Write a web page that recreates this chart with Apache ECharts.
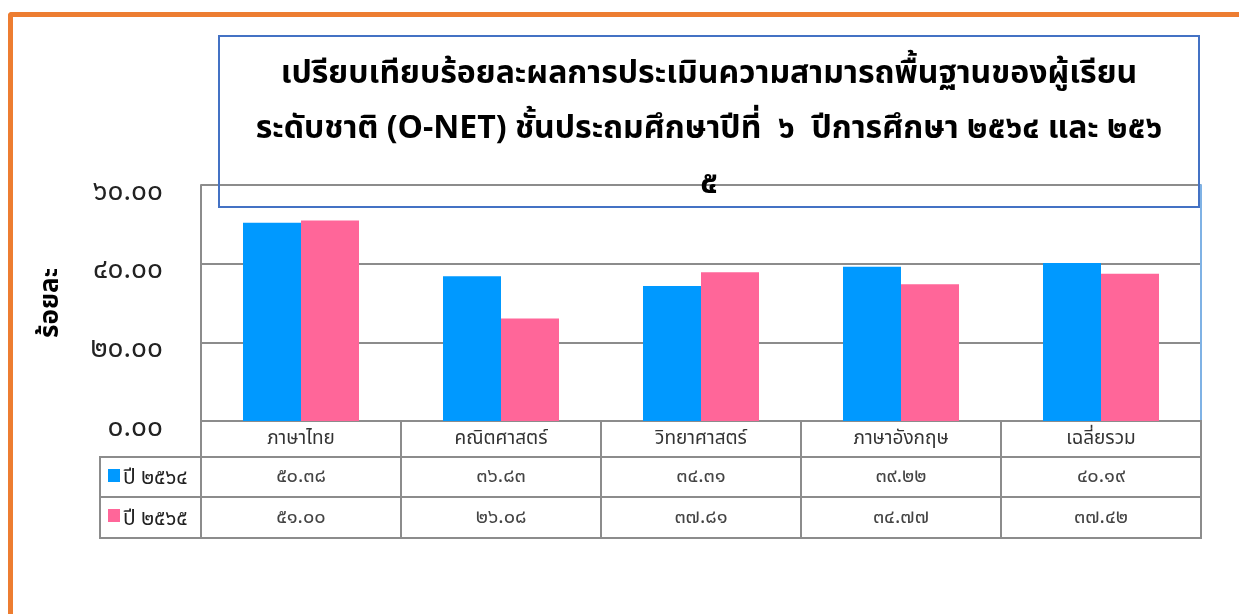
<!DOCTYPE html>
<html>
<head>
<meta charset="utf-8">
<script src="https://cdn.jsdelivr.net/npm/echarts@6/dist/echarts.min.js"></script>
<style>
  html, body { margin: 0; padding: 0; background: #fff; }
  #frame {
    position: absolute; left: 8px; top: 12px; width: 1231px; height: 602px;
    border-top: 5px solid #ED7D31; border-left: 5px solid #ED7D31;
    border-top-left-radius: 4px; box-sizing: border-box;
  }
  #chart { position: absolute; left: 0; top: 0; width: 1239px; height: 614px; }
</style>
</head>
<body>
<div id="frame"></div>
<div id="chart"></div>
<script>
const subjects = ['ภาษาไทย', 'คณิตศาสตร์', 'วิทยาศาสตร์', 'ภาษาอังกฤษ', 'เฉลี่ยรวม']
const seriesNames = ['ปี ๒๕๖๔', 'ปี ๒๕๖๕']
const year2564 = [50.38, 36.83, 34.31, 39.22, 40.19]
const year2565 = [51.00, 26.08, 37.81, 34.77, 37.42]
const colors = ['#0099FF', '#FF6699']
const titleLines = [
  'เปรียบเทียบร้อยละผลการประเมินความสามารถพื้นฐานของผู้เรียน',
  'ระดับชาติ (O-NET) ชั้นประถมศึกษาปีที่  ๖  ปีการศึกษา ๒๕๖๔ และ ๒๕๖',
  '๕'
]

const FONT = "'Noto Sans Thai', 'Noto Sans', 'DejaVu Sans', sans-serif"
const GRID_LINE = '#8C8C8C'
// table row boundaries (units on the table's y axis)
const rowEdges = [0, 36, 76, 117]

// arabic -> thai digits
const thaiDigits = s => String(s).replace(/[0-9]/g, d => '๐๑๒๓๔๕๖๗๘๙'[d])
const fmt = v => thaiDigits(v.toFixed(2))

// data table cells: [x0, x1, row, text, kind]
const allSeries = [year2564, year2565]
const cells = []
subjects.forEach((s, i) => cells.push([i, i + 1, 0, s, 'head']))
allSeries.forEach((vals, r) => {
  cells.push([-0.505, 0, r + 1, seriesNames[r], 'legend' + r])
  vals.forEach((v, i) => cells.push([i, i + 1, r + 1, fmt(v), 'val']))
})

const chart = echarts.init(document.getElementById('chart'))

chart.setOption({
  animation: false,
  title: {
    text: titleLines.map(l => '{t|' + l + '}').join('\n'),
    left: 219,
    top: 24,
    borderColor: '#4472C4',
    borderWidth: 2,
    padding: [25, 10, 5, 10],
    textStyle: {
      rich: {
        t: {
          fontFamily: FONT,
          fontSize: 32,
          fontWeight: 'bold',
          color: '#000',
          lineHeight: 55,
          width: 960,
          align: 'center'
        }
      }
    },
    z: 10
  },
  grid: [
    { left: 201, right: 38, top: 185, height: 236 },
    { left: 100, right: 38, top: 421, height: 117 }
  ],
  xAxis: [
    {
      type: 'category',
      gridIndex: 0,
      data: subjects,
      axisLine: { lineStyle: { color: GRID_LINE, width: 2 } },
      axisTick: { show: false },
      axisLabel: { show: false }
    },
    { type: 'value', gridIndex: 1, min: -0.505, max: 5, show: false }
  ],
  yAxis: [
    {
      type: 'value',
      gridIndex: 0,
      min: 0,
      max: 60,
      interval: 20,
      name: 'ร้อยละ',
      nameLocation: 'middle',
      nameGap: 135,
      nameRotate: 90,
      nameTextStyle: { fontFamily: FONT, fontSize: 26, fontWeight: 'bold', color: '#000' },
      axisLine: { show: true, lineStyle: { color: GRID_LINE, width: 2 } },
      axisTick: { show: false },
      axisLabel: {
        formatter: v => '{n|' + fmt(v) + '}',
        margin: 38,
        rich: {
          n: {
            fontFamily: FONT,
            fontSize: 28,
            color: '#222',
            padding: [18, 0, 0, 0]
          }
        }
      },
      splitLine: { lineStyle: { color: GRID_LINE, width: 2 } }
    },
    {
      type: 'value',
      gridIndex: 0,
      position: 'right',
      min: 0,
      max: 60,
      axisLine: { show: true, lineStyle: { color: '#7FB2E5', width: 2 } },
      axisTick: { show: false },
      axisLabel: { show: false },
      splitLine: { show: false }
    },
    { type: 'value', gridIndex: 1, min: 0, max: 117, inverse: true, show: false }
  ],
  series: [
    {
      name: seriesNames[0],
      type: 'bar',
      data: year2564,
      barWidth: 58,
      barGap: '0%',
      itemStyle: { color: colors[0] }
    },
    {
      name: seriesNames[1],
      type: 'bar',
      data: year2565,
      barWidth: 58,
      barGap: '0%',
      itemStyle: { color: colors[1] }
    },
    {
      type: 'custom',
      xAxisIndex: 1,
      yAxisIndex: 2,
      data: cells.map(c => [c[0], c[1], rowEdges[c[2]]]),
      encode: { x: [0, 1], y: 2 },
      renderItem(params, api) {
        const c = cells[params.dataIndex]
        const p0 = api.coord([c[0], rowEdges[c[2]]])
        const p1 = api.coord([c[1], rowEdges[c[2] + 1]])
        const w = p1[0] - p0[0]
        const h = p1[1] - p0[1]
        const children = [{
          type: 'rect',
          shape: { x: p0[0], y: p0[1], width: w, height: h },
          style: { fill: '#fff', stroke: GRID_LINE, lineWidth: 2 }
        }]
        if (c[4].startsWith('legend')) {
          const idx = +c[4].slice(6)
          children.push({
            type: 'rect',
            shape: { x: p0[0] + 8, y: p0[1] + 12, width: 12, height: 13 },
            style: { fill: colors[idx] }
          })
          children.push({
            type: 'text',
            style: {
              x: p0[0] + 23, y: p0[1] + h / 2 + 3, text: c[3],
              textVerticalAlign: 'middle', textAlign: 'left',
              font: '21px ' + FONT, fill: '#222'
            }
          })
        } else {
          children.push({
            type: 'text',
            style: {
              x: p0[0] + w / 2, y: p0[1] + h / 2 + 1, text: c[3],
              textVerticalAlign: 'middle', textAlign: 'center',
              font: (c[4] === 'head' ? '19px ' : '20px ') + FONT,
              fill: c[4] === 'head' ? '#333' : '#444'
            }
          })
        }
        return { type: 'group', children }
      }
    }
  ]
})
</script>
</body>
</html>
